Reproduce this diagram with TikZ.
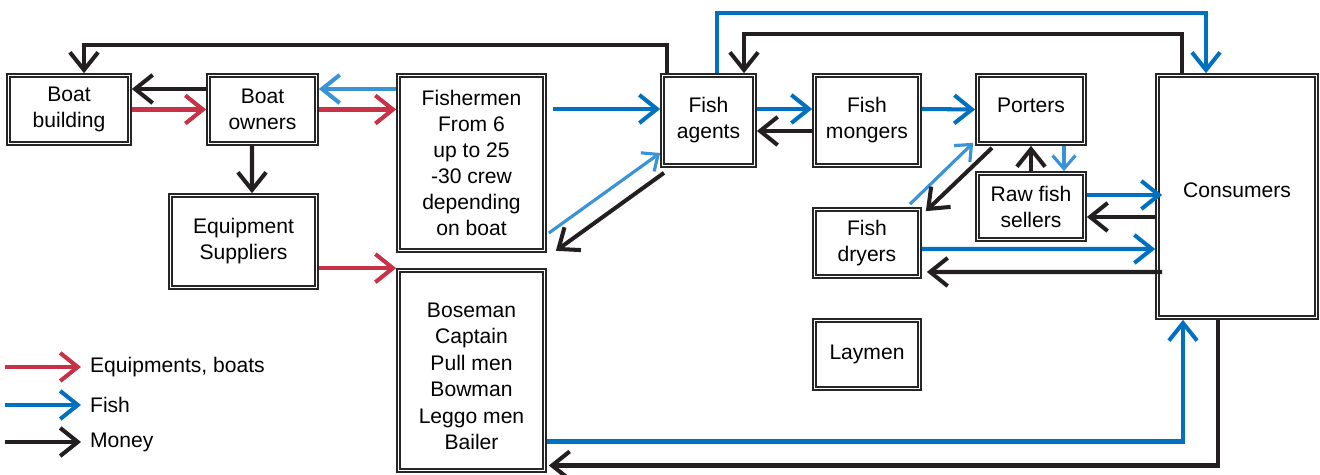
\documentclass[tikz,border=0pt]{standalone}
\usepackage{fontspec}
\setmainfont{Liberation Sans}
\usetikzlibrary{arrows.meta,calc}
\definecolor{eqred}{RGB}{200,50,70}
\definecolor{fishblue}{RGB}{0,112,192}
\definecolor{lightfish}{RGB}{58,147,214}
\definecolor{moneyblack}{RGB}{35,31,32}

\begin{document}
\begin{tikzpicture}[x=0.02cm,y=-0.02cm,
        font=\fontsize{12}{14.8}\selectfont,
        dbox/.style={draw=black!85,double,double distance=1.1pt,line width=0.8pt,outer sep=1.35pt,inner sep=0pt,align=center},
        equip/.style={draw=eqred,line width=2.3pt,-{Straight Barb[length=10pt,width=16pt]}},
        fish/.style={draw=fishblue,line width=2.3pt,-{Straight Barb[length=10pt,width=16pt]}},
        lfish/.style={draw=lightfish,line width=1.8pt,-{Straight Barb[length=7.5pt,width=13pt]}},
        money/.style={draw=moneyblack,line width=2.3pt,-{Straight Barb[length=10pt,width=16pt]}}]
                \useasboundingbox (0,0) rectangle (1320,475);
                \node[dbox,minimum width=2.42cm,minimum height=1.36cm] (bb) at (69,109.5) {Boat\\building};
                \node[dbox,minimum width=2.16cm,minimum height=1.36cm] (bo) at (262.5,109.5) {Boat\\owners};
                \node[dbox,minimum width=2.92cm,minimum height=3.5cm] (fm) at (471.5,163) {Fishermen\\From 6\\up to 25\\-30 crew\\depending\\on boat};
                \node[dbox,minimum width=2.92cm,minimum height=1.84cm] (es) at (243.5,241.5) {Equipment\\Suppliers};
                \node[dbox,minimum width=2.92cm,minimum height=4cm,font=\fontsize{12}{15.1}\selectfont] (crew) at (471.5,370.5) {\mbox{}\\Boseman\\Captain\\Pull men\\Bowman\\Leggo men\\Bailer};
                \node[dbox,minimum width=1.84cm,minimum height=1.8cm] (fa) at (708.5,120.5) {Fish\\agents};
                \node[dbox,minimum width=2.1cm,minimum height=1.8cm] (mg) at (867,120.5) {Fish\\mongers};
                \node[dbox,minimum width=2.14cm,minimum height=1.36cm,text depth=5pt] (po) at (1031,109.5) {Porters};
                \node[dbox,minimum width=2.14cm,minimum height=1.32cm] (rf) at (1031,206.5) {Raw fish\\sellers};
                \node[dbox,minimum width=2.1cm,minimum height=1.34cm] (dr) at (867,243) {Fish\\dryers};
                \node[dbox,minimum width=2.1cm,minimum height=1.36cm] (lay) at (867,354.5) {Laymen};
                \node[dbox,minimum width=3.18cm,minimum height=4.84cm,text depth=7pt] (con) at (1237,196.5) {Consumers};

                \draw[money] ($(fa.north)+(-41.5,0)$) -- ++(0,-28) -| ($(bb.north)+(15,0)$);
                \draw[money] ($(bo.west)+(0,-20.5)$) -- ($(bb.east)+(0,-20.5)$);
                \draw[equip] (bb.east) -- (bo.west);
                \draw[fish,draw=lightfish] ($(fm.west)+(0,-74)$) -- ($(bo.east)+(0,-20.5)$);
                \draw[equip] (bo.east) -- (fm.west |- bo.east);
                \draw[money] ($(bo.south)+(-10.5,0)$) -- ($(es.north)+(8.5,0)$);
                \draw[equip] (es.east |- crew.north west) -- (crew.north west);
                \draw[fish] ($(fm.east)+(6,-54)$) -- ($(fa.west)+(0,-11.5)$);
                \draw[lfish] ($(fm.east)+(2,70)$) -- ($(fa.west)+(0,32.5)$);
                \draw[money] ($(fa.south)+(-44.5,5)$) -- ($(fm.south east)+(9,-2)$);

                \draw[fish] ($(fa.north)+(8.5,0)$) -- ++(0,-60) -| ($(con.north)+(-31,0)$);
                \draw[money] ($(con.north)+(-55,0)$) -- ++(0,-39) -| ($(fa.north)+(35.5,0)$);
                \draw[fish] ($(fa.east)+(0,-11.5)$) -- ($(mg.west)+(0,-11.5)$);
                \draw[money] ($(mg.west)+(0,10.5)$) -- ($(fa.east)+(0,10.5)$);
                \draw[fish] ($(mg.east)+(0,-11.5)$) -- (po.west);
                \draw[lfish] ($(dr.north)+(43,-3)$) -- ($(po.south west)+(-2,-3)$);
                \draw[money] ($(po.south)+(-39,2)$) -- ($(dr.north east)+(4,4)$);
                \draw[money] (rf.north) -- (po.south);
                \draw[lfish] ($(po.south)+(33,0)$) -- ($(rf.north)+(33,0)$);
                \draw[fish] ($(rf.east)+(0,-11.5)$) -- ($(con.west)+(7,-1.5)$);
                \draw[money] ($(con.west)+(0,20.5)$) -- ($(rf.east)+(0,10.5)$);
                \draw[fish] ($(dr.east)+(0,6)$) -- ($(con.west)+(0,52.5)$);
                \draw[money] ($(con.west)+(7,75.5)$) -- ($(dr.east)+(5,29)$);
                \draw[fish] ($(crew.east)+(0,71)$) -| ($(con.south)+(-54,0)$);
                \draw[money] ($(con.south)+(-19,0)$) |- ($(crew.east)+(2,95)$);

                \coordinate (keq) at (5,367);
                \coordinate (kfish) at (5,405);
                \coordinate (kmoney) at (5,442);
                \node[anchor=west,inner xsep=5pt,inner ysep=1pt] (leq) at (81,367) {Equipments, boats};
                \node[anchor=west,inner xsep=5pt,inner ysep=1pt] (lfish) at (81,405) {Fish};
                \node[anchor=west,inner xsep=5pt,inner ysep=1pt] (lmoney) at (81,442) {Money};
                \draw[equip] (keq) -- (leq.west);
                \draw[fish] (kfish) -- (lfish.west);
                \draw[money] (kmoney) -- (lmoney.west);
            \end{tikzpicture}
\end{document}
